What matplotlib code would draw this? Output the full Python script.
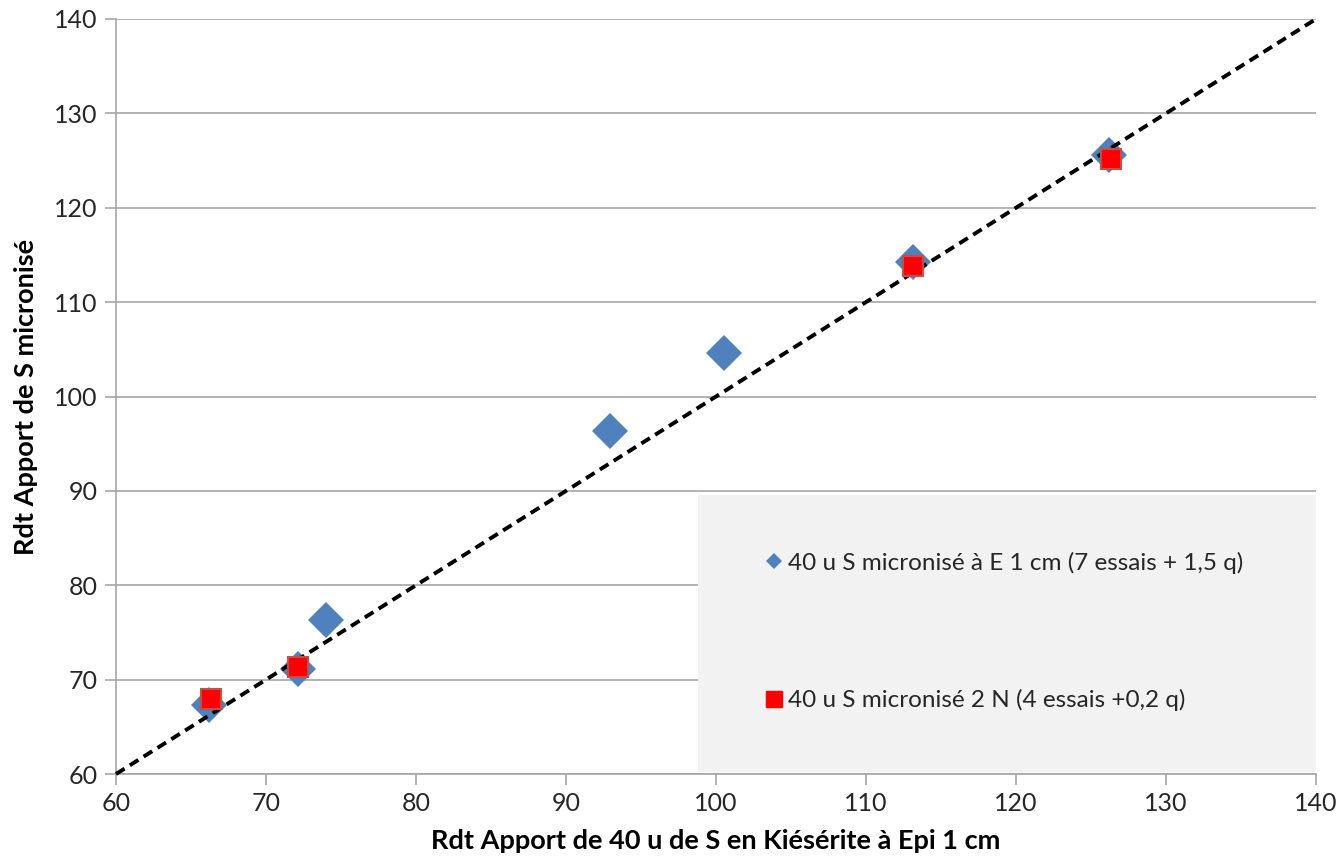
import matplotlib
matplotlib.use("Agg")
import matplotlib.pyplot as plt
from matplotlib.lines import Line2D
from matplotlib.patches import Rectangle

plt.rcParams['font.family'] = ['Lato', 'DejaVu Sans']

# data
kies_e = [66.2, 72.1, 74.0, 92.9, 100.5, 113.1, 126.2]
micro_e = [67.3, 71.1, 76.3, 96.3, 104.6, 114.3, 125.6]
kies_n = [66.3, 72.1, 113.1, 126.3]
micro_n = [67.9, 71.3, 113.8, 125.2]
diag = [60, 140]

lab_e = "40 u S micronisé à E 1 cm (7 essais + 1,5 q)"
lab_n = "40 u S micronisé 2 N (4 essais +0,2 q)"

blue = '#4f81bd'
red = '#ff0000'
grid_col = '#a6a6a6'

fig = plt.figure(figsize=(13.41, 8.65), dpi=100)
ax = fig.add_axes([116/1341, 91/865, 1200/1341, 755/865])

ax.set_xlim(60, 140)
ax.set_ylim(60, 140)
ax.set_xticks(range(60, 141, 10))
ax.set_yticks(range(60, 141, 10))

ax.grid(axis='y', color=grid_col, linewidth=1.2, zorder=0)
ax.set_axisbelow(True)
for s in ['top', 'right']:
    ax.spines[s].set_visible(False)
for s in ['left', 'bottom']:
    ax.spines[s].set_color(grid_col)
    ax.spines[s].set_linewidth(1.2)
ax.tick_params(direction='out', length=8, width=1.2, color=grid_col,
               labelsize=18, labelcolor='#262626', pad=5)

# grey box behind the legend (covers gridlines)
ax.add_patch(Rectangle((0.485, 0.003), 0.515, 0.367, transform=ax.transAxes,
                       facecolor='#f2f2f2', edgecolor='none', zorder=1.5))

ax.plot(kies_e, micro_e, linestyle='none', marker='D', markersize=18,
        color=blue, markeredgewidth=0, zorder=3, clip_on=False)
ax.plot(diag, diag, color='black', linewidth=2.8, linestyle=(0, (2.6, 1.6)),
        zorder=4, clip_on=False)
ax.plot(kies_n, micro_n, linestyle='none', marker='s', markersize=14,
        markerfacecolor=red, markeredgecolor='#c0504d', markeredgewidth=1.5,
        zorder=5, clip_on=False)

handles = [
    Line2D([], [], linestyle='none', marker='D', markersize=8, color=blue,
           markeredgewidth=0),
    Line2D([], [], linestyle='none', marker='s', markersize=11,
           markerfacecolor=red, markeredgecolor=red),
]
leg = ax.legend(handles, [lab_e, lab_n], loc='center left',
                bbox_to_anchor=(0.541, 0.1887), frameon=False, fontsize=17.5,
                labelspacing=4.75, handlelength=0.7, handletextpad=0.25,
                borderpad=0, borderaxespad=0)
for t in leg.get_texts():
    t.set_color('#262626')

ax.set_xlabel("Rdt Apport de 40 u de S en Kiésérite à Epi 1 cm",
              fontsize=19.5, fontweight='bold', labelpad=10)
ax.set_ylabel("Rdt Apport de S micronisé", fontsize=19.5, fontweight='bold',
              labelpad=12)

fig.savefig("out.png", dpi=100)
